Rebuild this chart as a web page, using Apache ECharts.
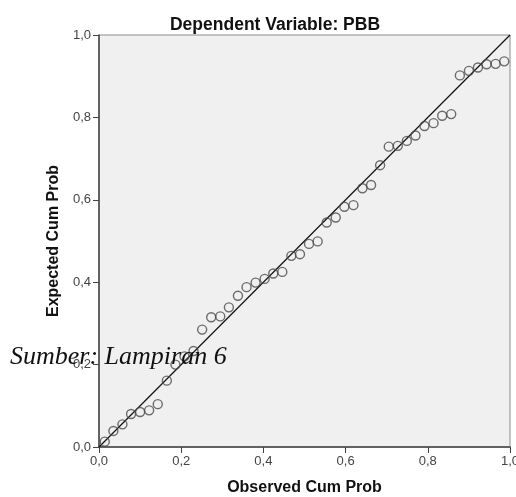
<!DOCTYPE html>
<html>
<head>
<meta charset="utf-8">
<script src="https://cdn.jsdelivr.net/npm/echarts@6/dist/echarts.min.js"></script>
<style>html,body{margin:0;padding:0;background:#fff;}#c{width:516px;height:497px;}</style>
</head>
<body>
<div id="c"></div>
<script>
const titleText = 'Dependent Variable: PBB';
const xName = 'Observed Cum Prob';
const yName = 'Expected Cum Prob';
const caption = 'Sumber: Lampiran 6';
const tickValues = [0, 0.2, 0.4, 0.6, 0.8, 1.0];
const observed = [0.014, 0.035, 0.057, 0.078, 0.100, 0.122, 0.143, 0.165, 0.186, 0.208, 0.230, 0.251, 0.273, 0.295, 0.316, 0.338, 0.359, 0.381, 0.403, 0.424, 0.446, 0.468, 0.489, 0.511, 0.532, 0.554, 0.576, 0.597, 0.619, 0.641, 0.662, 0.684, 0.705, 0.727, 0.749, 0.770, 0.792, 0.814, 0.835, 0.857, 0.878, 0.900, 0.922, 0.943, 0.965, 0.986];
const expected = [0.013, 0.039, 0.055, 0.080, 0.085, 0.089, 0.104, 0.161, 0.200, 0.220, 0.233, 0.285, 0.315, 0.317, 0.339, 0.367, 0.388, 0.399, 0.408, 0.421, 0.425, 0.464, 0.468, 0.493, 0.499, 0.545, 0.557, 0.583, 0.587, 0.628, 0.636, 0.684, 0.729, 0.731, 0.743, 0.756, 0.779, 0.786, 0.804, 0.808, 0.902, 0.913, 0.921, 0.929, 0.930, 0.936];
const refLine = [[0, 0], [1, 1]];

const points = observed.map((x, i) => [x, expected[i]]);
const fmt = v => v.toFixed(1).replace('.', ',');
const chart = echarts.init(document.getElementById('c'), null, {renderer: 'canvas'});
const sans = 'Liberation Sans, Arial, sans-serif';
const labelFont = {color: '#444', fontSize: 13, fontFamily: sans};
chart.setOption({
  animation: false,
  title: {
    text: titleText, left: 270, top: 11, textAlign: 'center',
    textStyle: {fontSize: 17.5, fontWeight: 'bold', color: '#111', fontFamily: sans}
  },
  grid: {left: 99, right: 6, top: 35, bottom: 50, containLabel: false, outerBoundsMode: 'none',
    show: true, backgroundColor: '#f0f0f0', borderColor: '#8c8c8c', borderWidth: 1},
  xAxis: {
    type: 'value', min: 0, max: 1, interval: 0.2,
    name: xName, nameLocation: 'middle', nameGap: 33,
    nameTextStyle: {fontSize: 16, fontWeight: 'bold', color: '#111', fontFamily: sans},
    axisLine: {show: true, lineStyle: {color: '#444', width: 1.5}},
    axisTick: {show: true, length: 6, lineStyle: {color: '#444'}},
    axisLabel: Object.assign({formatter: fmt, margin: 8, showMaxLabel: true, hideOverlap: false}, labelFont),
    splitLine: {show: false}
  },
  yAxis: {
    type: 'value', min: 0, max: 1, interval: 0.2,
    name: yName, nameLocation: 'middle', nameGap: 35,
    nameTextStyle: {fontSize: 16, fontWeight: 'bold', color: '#111', fontFamily: sans},
    axisLine: {show: true, lineStyle: {color: '#444', width: 1.5}},
    axisTick: {show: true, length: 6, lineStyle: {color: '#444'}},
    axisLabel: Object.assign({formatter: fmt, margin: 8}, labelFont),
    splitLine: {show: false}
  },
  series: [
    {
      type: 'line', data: refLine, symbol: 'none', silent: true,
      lineStyle: {color: '#111', width: 1.2}, z: 2
    },
    {
      type: 'scatter', data: points, symbol: 'circle', symbolSize: 9,
      itemStyle: {color: 'rgba(0,0,0,0)', borderColor: '#4a4a4a', borderWidth: 1.4}, z: 3
    }
  ],
  graphic: [{
    type: 'text', left: 10, top: 344, z: 100,
    style: {text: caption, font: 'italic 26px "Liberation Serif", "Times New Roman", serif', fill: '#111'}
  }]
});
</script>
</body>
</html>
